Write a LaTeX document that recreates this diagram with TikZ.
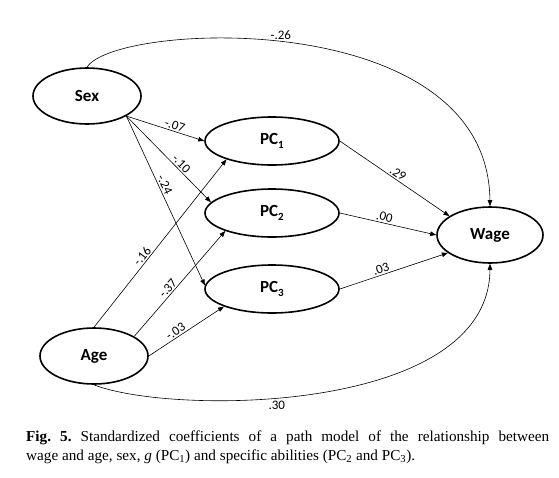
\documentclass[tikz,border=0pt]{standalone}
\usepackage{fontspec}
\setmainfont{Liberation Serif}
\newfontfamily\carl{Carlito}
\usetikzlibrary{shapes.geometric,arrows.meta}
\frenchspacing
\begin{document}
\begin{tikzpicture}[x=1pt,y=-1pt,
  var/.style={draw,ellipse,line width=1.6pt,inner sep=0pt,minimum width=108pt,minimum height=56pt,font=\carl\fontsize{17}{17}\selectfont\bfseries},
  pc/.style={var,minimum width=134pt,minimum height=48pt},
  path/.style={line width=0.6pt,-{Triangle[length=6pt,width=4.5pt]}},
  lab/.style={font=\carl\fontsize{13}{13}\selectfont,sloped,above,inner sep=1.5pt},
  captext/.style={anchor=base west,inner sep=0pt,font=\fontsize{15.2}{19}\selectfont}]
\useasboundingbox (0,0) rectangle (559,477);
\newcommand{\pcsub}[1]{\raisebox{-0.45ex}{\fontsize{11}{11}\selectfont #1}}
\node[var] (sex) at (87,96) {Sex};
\node[var] (age) at (94,356) {Age};
\node[pc] (pc1) at (272,141) {PC\pcsub{1}};
\node[pc] (pc2) at (272,213) {PC\pcsub{2}};
\node[pc] (pc3) at (272,289) {PC\pcsub{3}};
\node[var,minimum width=106pt] (wage) at (490,235) {Wage};
% sex paths
\draw[path] (sex.-27) -- node[lab,pos=0.6]{-.07} (pc1.west);
\draw[path] (sex.-27) -- node[lab,pos=0.6]{-.10} (pc2.170);
\draw[path] (sex.-27) -- node[lab,pos=0.42]{-.24} (pc3.177);
% age paths
\draw[path] (age.north) -- node[lab,pos=0.4]{-.16} (pc1.-158);
\draw[path] (age.26) -- node[lab,pos=0.42]{-.37} (pc2.-159);
\draw[path] (age.east) -- node[lab,pos=0.4]{-.03} (pc3.-160);
% pc to wage
\draw[path] (pc1.east) -- node[lab,pos=0.5]{.29} (wage.155);
\draw[path] (pc2.east) -- node[lab,pos=0.45]{.00} (wage.west);
\draw[path] (pc3.east) -- node[lab,pos=0.4]{.03} (wage.-157);
% curved
\draw[path] (sex.north) .. controls (115,22) and (488,5) .. node[pos=0.47,above,font=\carl\fontsize{13}{13}\selectfont,inner sep=1.5pt]{-.26} (wage.north);
\draw[path] (age.south) .. controls (170,415) and (489,415) .. node[pos=0.42,below,font=\carl\fontsize{13}{13}\selectfont,inner sep=2.5pt]{.30} (wage.south);
% caption
\node[captext] (cap1) at (26,441) {\makebox[523pt][s]{\textbf{Fig. 5.} Standardized coefficients of a path model of the relationship between}};
\node[captext] (cap2) at (26,460) {wage and age, sex, \textit{g} (PC\textsubscript{1}) and specific abilities (PC\textsubscript{2} and PC\textsubscript{3}).};
\end{tikzpicture}
\end{document}
